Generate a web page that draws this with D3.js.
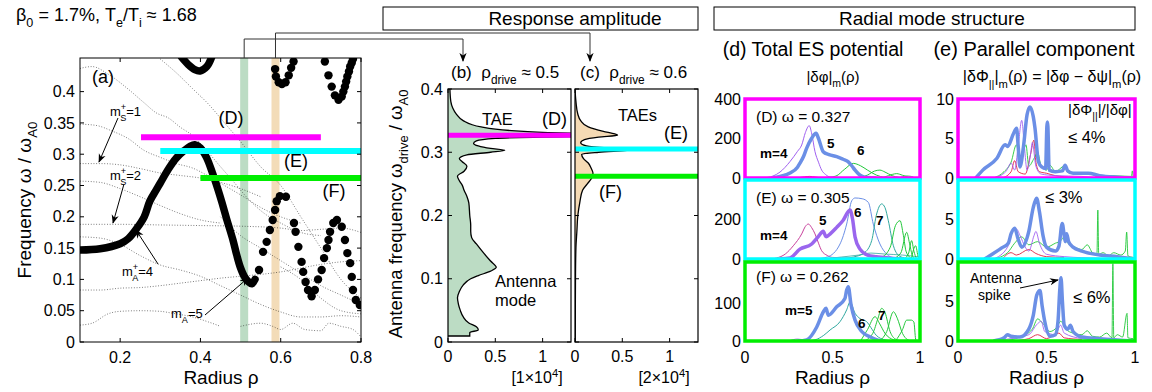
<!DOCTYPE html>
<html>
<head>
<meta charset="utf-8">
<script src="https://cdn.jsdelivr.net/npm/d3@7"></script>
<style>
body { margin: 0; background: #fff; }
svg { font-family: "Liberation Sans", Arial, sans-serif; }
text { white-space: pre; }
</style>
</head>
<body>
<div id="chart"></div>
<script>
// ---------- panel (a): continuum ----------
var thickBranch = [[0.1,0.147],[0.15,0.149],[0.2,0.157],[0.22,0.165],[0.242,0.182],[0.26,0.2],[0.274,0.225],[0.29,0.243],[0.3,0.254],[0.32,0.276],[0.34,0.294],[0.36,0.306],[0.375,0.313],[0.386,0.315],[0.4,0.31],[0.415,0.295],[0.43,0.27],[0.444,0.243],[0.454,0.222],[0.466,0.195],[0.481,0.163],[0.49,0.14],[0.499,0.12],[0.51,0.104],[0.52,0.096],[0.528,0.093],[0.536,0.1]];
var topBranch = [[0.353,0.455],[0.37,0.443],[0.386,0.435],[0.399,0.433],[0.416,0.44],[0.428,0.455]];
var dotPoints = [[0.546,0.115],[0.556,0.144],[0.565,0.16],[0.573,0.179],[0.58,0.195],[0.586,0.211],[0.59,0.225],[0.598,0.233],[0.613,0.232],[0.633,0.19],[0.637,0.176],[0.644,0.152],[0.652,0.128],[0.656,0.112],[0.662,0.096],[0.668,0.083],[0.677,0.073],[0.685,0.083],[0.693,0.1],[0.702,0.115],[0.708,0.134],[0.715,0.15],[0.719,0.163],[0.723,0.176],[0.731,0.19],[0.74,0.195],[0.752,0.184],[0.76,0.163],[0.766,0.142],[0.773,0.126],[0.777,0.104],[0.78,0.083],[0.787,0.067],[0.797,0.059],
  [0.586,0.436],[0.588,0.424],[0.595,0.415],[0.603,0.412],[0.612,0.415],[0.62,0.426],[0.626,0.438],[0.632,0.448],
  [0.71,0.448],[0.719,0.426],[0.727,0.408],[0.735,0.394],[0.744,0.387],[0.752,0.392],[0.756,0.4],[0.76,0.408],[0.763,0.416],[0.766,0.424],[0.77,0.432],[0.773,0.44],[0.777,0.446],[0.78,0.452]];
var thinLines = [
  [[0.1,0.437],[0.13,0.44],[0.17,0.428],[0.22,0.404],[0.26,0.382],[0.29,0.366],[0.32,0.358],[0.35,0.343],[0.38,0.33],[0.41,0.31],[0.45,0.28],[0.48,0.258],[0.52,0.228],[0.56,0.205],[0.6,0.19],[0.65,0.175],[0.7,0.17]],
  [[0.1,0.348],[0.14,0.346],[0.18,0.337],[0.22,0.325],[0.26,0.306],[0.3,0.295],[0.34,0.285],[0.38,0.278],[0.42,0.265],[0.46,0.25],[0.5,0.235],[0.55,0.215],[0.6,0.2],[0.65,0.19]],
  [[0.1,0.285],[0.15,0.285],[0.2,0.283],[0.25,0.277],[0.3,0.27],[0.35,0.266],[0.4,0.262],[0.45,0.255],[0.5,0.245],[0.55,0.232]],
  [[0.1,0.257],[0.15,0.255],[0.2,0.245],[0.25,0.232],[0.3,0.218],[0.35,0.205],[0.4,0.195],[0.45,0.19]],
  [[0.1,0.188],[0.2,0.188],[0.3,0.187],[0.4,0.186],[0.5,0.185],[0.6,0.182],[0.65,0.178],[0.7,0.18],[0.75,0.182],[0.8,0.175]],
  [[0.1,0.168],[0.15,0.166],[0.2,0.156],[0.25,0.138],[0.3,0.123],[0.35,0.115],[0.4,0.105],[0.45,0.09],[0.5,0.075],[0.55,0.06],[0.6,0.048],[0.65,0.04],[0.7,0.04],[0.75,0.042],[0.8,0.04]],
  [[0.1,0.083],[0.15,0.083],[0.2,0.086],[0.25,0.087],[0.3,0.09],[0.35,0.094],[0.4,0.098],[0.45,0.102],[0.5,0.105],[0.55,0.108],[0.6,0.112],[0.65,0.118],[0.7,0.124],[0.75,0.128],[0.8,0.13]],
  [[0.1,0.027],[0.13,0.03],[0.17,0.045],[0.2,0.049],[0.25,0.05],[0.3,0.049],[0.33,0.046],[0.38,0.04],[0.42,0.032],[0.45,0.025]],
  [[0.5,0.025],[0.55,0.03],[0.58,0.025],[0.6,0.02],[0.63,0.03],[0.66,0.02],[0.7,0.018],[0.72,0.03],[0.75,0.025],[0.78,0.02],[0.8,0.008]],
  [[0.3,0.452],[0.34,0.43],[0.38,0.405],[0.42,0.38],[0.46,0.35],[0.5,0.32],[0.55,0.28],[0.6,0.25],[0.65,0.2],[0.7,0.15],[0.75,0.1],[0.8,0.07]],
  [[0.45,0.2],[0.5,0.17],[0.55,0.15],[0.6,0.13],[0.65,0.11],[0.7,0.09],[0.75,0.075],[0.8,0.06]],
  [[0.6,0.12],[0.65,0.1],[0.7,0.07],[0.75,0.05],[0.8,0.045]]
];
var bandRho = [0.509, 0.587];
var bandColors = ["#bcdcc4", "#f3dcb8"];
var modeNames = ["D", "E", "F"];
var modeFreq = [0.327, 0.305, 0.262];
var modeRhoStart = [0.252, 0.30, 0.40];
var modeRhoEnd = [0.70, 0.80, 0.80];
var modeColors = ["#ff00ff", "#00ffff", "#00ee00"];

// ---------- panels (b), (c): response amplitude [freq, amplitude] ----------
var respB = [[0.40,0.02],[0.38,0.03],[0.37,0.05],[0.36,0.09],[0.35,0.16],[0.34,0.35],[0.333,0.8],[0.329,1.6],[0.327,2.5],[0.325,1.4],[0.322,0.5],[0.318,0.3],[0.314,0.27],[0.31,0.32],[0.306,0.45],[0.303,0.6],[0.3,0.45],[0.296,0.2],[0.29,0.12],[0.285,0.15],[0.278,0.2],[0.27,0.17],[0.262,0.1],[0.255,0.12],[0.248,0.15],[0.24,0.17],[0.23,0.2],[0.22,0.22],[0.2,0.23],[0.185,0.24],[0.175,0.24],[0.165,0.25],[0.155,0.3],[0.14,0.38],[0.128,0.45],[0.118,0.51],[0.112,0.45],[0.105,0.32],[0.1,0.24],[0.09,0.16],[0.08,0.12],[0.07,0.1],[0.06,0.11],[0.05,0.13],[0.04,0.16],[0.03,0.22],[0.024,0.3],[0.019,0.32],[0.015,0.23],[0.0095,0.23],[0.0095,0]];
var respC = [[0.40,0.0],[0.38,0.01],[0.36,0.03],[0.35,0.06],[0.34,0.14],[0.333,0.3],[0.329,0.42],[0.327,0.45],[0.324,0.25],[0.32,0.1],[0.315,0.06],[0.31,0.12],[0.307,0.35],[0.305,0.7],[0.303,0.55],[0.3,0.25],[0.297,0.07],[0.29,0.09],[0.283,0.14],[0.275,0.17],[0.267,0.19],[0.26,0.18],[0.25,0.13],[0.24,0.08],[0.22,0.05],[0.2,0.03],[0.175,0.02],[0.15,0.01],[0.1,0.005],[0.0,0.003]];
var ampTicks = [0, 0.5, 1];
var freqTicks = [0, 0.1, 0.2, 0.3, 0.4];
var freqTicksA = [0, 0.05, 0.1, 0.15, 0.2, 0.25, 0.3, 0.35, 0.4];
var rhoTicksA = [0.2, 0.4, 0.6, 0.8];

// ---------- panel (d): |dphi|_m(rho) ----------
var dD_m3 = [[0.3,0],[0.34,6],[0.37,8],[0.4,5],[0.44,0]];
var dD_m4 = [[0.1,0],[0.16,10],[0.2,30],[0.257,83],[0.3,135],[0.324,167],[0.345,230],[0.367,265],[0.38,230],[0.4,133],[0.42,80],[0.438,40],[0.46,18],[0.486,5],[0.55,0]];
var dD_m6 = [[0.45,0],[0.52,10],[0.57,45],[0.619,74],[0.66,62],[0.7,40],[0.75,15],[0.8,3],[0.85,0]];
var dD_m7 = [[0.65,0],[0.7,15],[0.74,35],[0.771,40],[0.8,30],[0.84,12],[0.88,3],[0.92,0]];
var dD_m8 = [[0.78,0],[0.82,12],[0.867,22],[0.9,14],[0.94,2],[0.96,0]];
var dD_m9 = [[0.88,0],[0.92,10],[0.95,8],[0.97,0]];
var dD_tot = [[0.15,0],[0.2,8],[0.257,25],[0.3,55],[0.314,75],[0.335,110],[0.352,150],[0.38,200],[0.406,226],[0.42,200],[0.447,133],[0.48,118],[0.524,108],[0.56,95],[0.589,83],[0.61,62],[0.629,40],[0.65,20],[0.667,10],[0.7,2],[0.75,0]];

var dE_m4 = [[0.15,0],[0.18,5],[0.23,25],[0.276,67],[0.324,127],[0.345,165],[0.362,177],[0.38,160],[0.4,127],[0.42,80],[0.438,42],[0.47,18],[0.5,8],[0.6,5],[0.7,3],[0.8,0]];
var dE_m5 = [[0.2,0],[0.257,5],[0.314,50],[0.381,76],[0.42,115],[0.438,135],[0.447,140],[0.463,113],[0.49,130],[0.524,160],[0.56,195],[0.6,248],[0.615,200],[0.629,111],[0.657,50],[0.7,20],[0.75,12],[0.8,8],[0.85,3],[0.9,0]];
var dE_m6 = [[0.4,0],[0.47,10],[0.543,76],[0.581,177],[0.61,295],[0.629,309],[0.67,305],[0.705,286],[0.733,177],[0.771,76],[0.81,25],[0.85,5],[0.9,0]];
var dE_m7 = [[0.55,0],[0.62,10],[0.68,30],[0.724,93],[0.75,220],[0.781,279],[0.8,260],[0.819,194],[0.848,67],[0.87,25],[0.9,8],[0.95,0]];
var dE_m8 = [[0.7,0],[0.78,10],[0.83,60],[0.86,170],[0.886,194],[0.905,120],[0.92,40],[0.94,10],[0.96,0]];
var dE_m9 = [[0.84,0],[0.89,30],[0.924,135],[0.94,80],[0.955,20],[0.97,0]];
var dE_m10 = [[0.91,0],[0.935,30],[0.952,93],[0.965,40],[0.98,0]];
var dE_m11 = [[0.95,0],[0.975,67],[0.99,10],[1.0,0]];
var dE_bg = [[0.45,0],[0.55,10],[0.65,20],[0.72,30],[0.8,25],[0.9,20],[1,10]];

var dF_m4 = [[0.25,0],[0.3,5],[0.35,2],[0.4,0]];
var dF_m5 = [[0.3,0],[0.352,3],[0.41,37],[0.448,77],[0.463,86],[0.476,68],[0.524,90],[0.571,112],[0.581,134],[0.59,143],[0.606,95],[0.629,55],[0.667,25],[0.714,11],[0.76,2],[0.8,0]];
var dF_m6 = [[0.35,0],[0.4,3],[0.45,15],[0.486,29],[0.543,51],[0.581,82],[0.6,103],[0.629,73],[0.657,59],[0.695,51],[0.72,35],[0.75,15],[0.8,3],[0.85,0]];
var dF_m6b = [[0.66,0],[0.7,30],[0.743,64],[0.77,45],[0.8,20],[0.85,3],[0.88,0]];
var dF_m7 = [[0.68,0],[0.73,20],[0.76,60],[0.781,86],[0.8,75],[0.829,25],[0.86,5],[0.9,0]];
var dF_m8 = [[0.77,0],[0.81,25],[0.848,77],[0.87,60],[0.9,20],[0.93,3],[0.95,0]];
var dF_m9 = [[0.86,0],[0.9,30],[0.924,55],[0.95,55],[0.965,50],[0.975,5],[0.98,0]];

// ---------- panel (e): |dPhi_par|_m(rho) ----------
var eD_tot = [[0.1,0],[0.14,1.0],[0.22,2.5],[0.266,4.2],[0.28,4.0],[0.313,5.6],[0.331,6.3],[0.34,4],[0.35,1.4],[0.37,4],[0.39,8],[0.407,9.0],[0.425,7.8],[0.435,6.3],[0.454,2.1],[0.473,1.4],[0.495,1.2],[0.502,6.5],[0.505,7.1],[0.508,6.5],[0.515,1.0],[0.55,0.8],[0.59,0.9],[0.605,1.6],[0.62,0.9],[0.65,0.6],[0.736,0.6],[0.8,0.3],[0.9,0.1],[1.0,0]];
var eD_pur = [[0.2,0],[0.27,0.8],[0.3,1.9],[0.32,1.0],[0.34,4],[0.36,7.3],[0.375,4],[0.39,1],[0.41,3],[0.42,4.5],[0.44,1.5],[0.47,0.5],[0.55,0.3],[0.7,0.2],[0.8,0]];
var eD_grn = [[0.2,0],[0.26,0.8],[0.3,2.0],[0.33,4.2],[0.35,2.5],[0.37,3.5],[0.384,4.2],[0.4,1.5],[0.43,2.5],[0.45,3.2],[0.47,1.5],[0.5,1.0],[0.52,1.6],[0.55,0.8],[0.6,1.5],[0.62,0.7],[0.7,0.5],[0.75,0.7],[0.78,0.2],[0.85,0.3],[0.98,0.2],[0.985,0.9],[0.99,0.1]];
var eD_red = [[0.25,0],[0.3,0.8],[0.32,2.2],[0.34,0.8],[0.38,0.5],[0.41,3],[0.429,4.8],[0.44,2],[0.46,0.8],[0.5,0.6],[0.55,0.3],[0.65,0.1]];
var eE_tot = [[0.15,0],[0.247,1.4],[0.284,2.0],[0.3,3.2],[0.32,3.9],[0.34,2.5],[0.36,1.5],[0.4,3.5],[0.425,6.5],[0.444,7.7],[0.46,6],[0.48,3],[0.5,1.5],[0.55,1.0],[0.57,1.6],[0.589,4.5],[0.6,3],[0.606,2.2],[0.614,3.2],[0.625,2.2],[0.65,1.5],[0.7,1.0],[0.8,0.5],[0.9,0.3],[1,0]];
var eE_pur = [[0.2,0],[0.28,1.5],[0.31,3.5],[0.33,3.8],[0.35,3.0],[0.38,1.5],[0.4,1],[0.43,3.0],[0.44,3.5],[0.46,2],[0.5,0.6],[0.6,0.3],[0.8,0.1]];
var eE_grn = [[0.2,0],[0.28,0.8],[0.32,2.0],[0.36,2.8],[0.4,1.8],[0.45,2.2],[0.5,1.5],[0.55,2.0],[0.58,2.3],[0.6,2.8],[0.62,2.0],[0.66,1.5],[0.7,1.2],[0.73,1.8],[0.76,0.8],[0.785,0.6],[0.79,6.2],[0.795,0.6],[0.82,0.8],[0.85,0.4],[0.88,0.8],[0.92,0.5],[0.945,1.0],[0.953,3.4],[0.96,0.4],[0.99,0.2]];
var eE_red = [[0.25,0],[0.3,0.8],[0.33,0.5],[0.4,1.2],[0.44,0.7],[0.5,0.3],[0.6,0.2]];
var eF_tot = [[0.2,0],[0.26,0.4],[0.28,0.8],[0.3,0.6],[0.35,0.5],[0.4,1.5],[0.425,3.2],[0.445,5.8],[0.463,6.4],[0.475,4.5],[0.49,2.5],[0.52,0.6],[0.55,0.8],[0.565,2.5],[0.575,6.5],[0.582,8.0],[0.59,5],[0.6,2.0],[0.62,1.5],[0.635,2.0],[0.65,1.2],[0.7,0.5],[0.8,0.3],[1,0]];
var eF_pur = [[0.2,0],[0.3,0.3],[0.4,0.8],[0.45,2.2],[0.47,2.5],[0.49,1.2],[0.55,0.8],[0.58,2.0],[0.6,1.0],[0.7,0.3],[0.8,0.1]];
var eF_grn = [[0.25,0],[0.35,0.5],[0.42,1.5],[0.45,2.8],[0.48,2.2],[0.52,1.2],[0.56,1.8],[0.58,2.5],[0.61,1.5],[0.65,1.0],[0.7,0.8],[0.73,1.3],[0.76,0.6],[0.8,0.5],[0.84,1.0],[0.87,0.4],[0.875,9.8],[0.88,0.4],[0.9,0.8],[0.93,0.5],[0.955,3.5],[0.96,0.4],[0.99,0.3]];
var eF_red = [[0.3,0],[0.4,0.3],[0.45,0.8],[0.5,0.3],[0.57,1.0],[0.6,0.4],[0.7,0.2]];

var rhoTicks = [0, 0.5, 1];
var dMax = [400, 400, 208];
var dTicks = [[0, 200, 400], [0, 200], [0, 100]];
var eTicks = [[0, 5, 10], [0, 5], [0, 5]];
var omegaLabels = ["(D) \u03c9 = 0.327", "(E) \u03c9 = 0.305", "(F) \u03c9 = 0.262"];
var ratioLabels = ["\u2264 4%", "\u2264 3%", "\u2264 6%"];

var cBlue = "#6b8fe6", cPurple = "#a060f0", cMag = "#c8409c", cTeal = "#30a8a0",
    cGreen = "#22c83a", cRed = "#e02040", cThickPur = "#9a66ee";

var width = 1152, height = 392;
var svg = d3.select("#chart").append("svg")
  .attr("width", width).attr("height", height);

var defs = svg.append("defs");
defs.append("marker").attr("id", "arr")
  .attr("viewBox", "0 0 10 10").attr("refX", 9).attr("refY", 5)
  .attr("markerWidth", 9).attr("markerHeight", 9).attr("orient", "auto")
  .append("path").attr("d", "M0,1 L10,5 L0,9 L3,5 z").attr("fill", "#000");

function rich(g, x, y, parts, size, anchor, weight) {
  var t = g.append("text").attr("x", x).attr("y", y)
    .attr("font-size", size).attr("text-anchor", anchor || "start");
  if (weight) t.attr("font-weight", weight);
  var cur = 0;
  parts.forEach(function(p) {
    if (typeof p === "string") p = [p, 0];
    var off = p[1] * size;
    var ts = t.append("tspan").text(p[0]).attr("dy", off - cur);
    if (p[1] !== 0) ts.attr("font-size", size * 0.7);
    if (p[2]) ts.attr("dx", p[2]);
    cur = off;
  });
  return t;
}

function clip(id, x0, y0, x1, y1) {
  defs.append("clipPath").attr("id", id).append("rect")
    .attr("x", x0).attr("y", y0).attr("width", x1 - x0).attr("height", y1 - y0);
}

// ================= panel (a) =================
var xa = d3.scaleLinear().domain([0.1, 0.8]).range([80, 361]);
var ya = d3.scaleLinear().domain([0, 0.4537]).range([342, 58]);
clip("clipA", 80, 58, 361, 342);
var ga = svg.append("g");
var pa = ga.append("g").attr("clip-path", "url(#clipA)");

pa.selectAll("rect.band").data(bandRho).enter().append("rect")
  .attr("x", function(d) { return xa(d) - 4; }).attr("y", 58)
  .attr("width", 8).attr("height", 284)
  .attr("fill", function(d, i) { return bandColors[i]; });

var lineA = d3.line().x(function(d) { return xa(d[0]); }).y(function(d) { return ya(d[1]); })
  .curve(d3.curveMonotoneX);
var lineA2 = d3.line().x(function(d) { return xa(d[0]); }).y(function(d) { return ya(d[1]); })
  .curve(d3.curveCatmullRom);

pa.selectAll("path.thin").data(thinLines).enter().append("path")
  .attr("d", lineA).attr("fill", "none").attr("stroke", "#111")
  .attr("stroke-width", 0.6).attr("stroke-dasharray", "0.9,1.8");

pa.selectAll("path.thick").data([thickBranch, topBranch]).enter().append("path")
  .attr("d", lineA2).attr("fill", "none").attr("stroke", "#000")
  .attr("stroke-width", 7.5).attr("stroke-linecap", "round").attr("stroke-linejoin", "round");

pa.selectAll("circle").data(dotPoints).enter().append("circle")
  .attr("cx", function(d) { return xa(d[0]); }).attr("cy", function(d) { return ya(d[1]); })
  .attr("r", 4.2).attr("fill", "#000");

pa.selectAll("line.mode").data(modeFreq).enter().append("line")
  .attr("x1", function(d, i) { return xa(modeRhoStart[i]); })
  .attr("x2", function(d, i) { return xa(modeRhoEnd[i]); })
  .attr("y1", function(d) { return ya(d); }).attr("y2", function(d) { return ya(d); })
  .attr("stroke", function(d, i) { return modeColors[i]; }).attr("stroke-width", 6);

ga.append("rect").attr("x", 80).attr("y", 58).attr("width", 281).attr("height", 284)
  .attr("fill", "none").attr("stroke", "#000").attr("stroke-width", 1);

freqTicksA.forEach(function(v) {
  ga.append("line").attr("x1", 80).attr("x2", 84).attr("y1", ya(v)).attr("y2", ya(v)).attr("stroke", "#000");
  ga.append("line").attr("x1", 357).attr("x2", 361).attr("y1", ya(v)).attr("y2", ya(v)).attr("stroke", "#000");
  ga.append("text").attr("x", 75).attr("y", ya(v)).attr("dy", "0.35em")
    .attr("text-anchor", "end").attr("font-size", 16).text(v);
});
rhoTicksA.forEach(function(v) {
  ga.append("line").attr("x1", xa(v)).attr("x2", xa(v)).attr("y1", 342).attr("y2", 338).attr("stroke", "#000");
  ga.append("line").attr("x1", xa(v)).attr("x2", xa(v)).attr("y1", 58).attr("y2", 62).attr("stroke", "#000");
  ga.append("text").attr("x", xa(v)).attr("y", 363)
    .attr("text-anchor", "middle").attr("font-size", 16).text(v);
});

rich(ga, 221, 384, ["Radius \u03c1"], 19, "middle");
rich(ga.append("g").attr("transform", "translate(31,200) rotate(-90)"), 0, 0,
  ["Frequency \u03c9 / \u03c9", ["A0", 0.3]], 19, "middle");
rich(ga, 16, 21, ["\u03b2", ["0", 0.35], " = 1.7%, T", ["e", 0.35], "/T", ["i", 0.35], " \u2248 1.68"], 18);

ga.append("text").attr("x", 92).attr("y", 83).attr("font-size", 18).text("(a)");
modeNames.forEach(function(n, i) {
  var pos = [[231, 124], [296, 167], [334, 197]][i];
  ga.append("text").attr("x", pos[0]).attr("y", pos[1]).attr("text-anchor", "middle")
    .attr("font-size", 18).text("(" + n + ")");
});

rich(ga, 110, 116, ["m", ["+", -0.45], ["S", 0.35, -6], "=1"], 13);
rich(ga, 110, 180, ["m", ["+", -0.45], ["S", 0.35, -6], "=2"], 13);
rich(ga, 122, 276, ["m", ["+", -0.45], ["A", 0.35, -6], "=4"], 13);
rich(ga, 171, 318, ["m", ["A", 0.35], "=5"], 13);

var annArrows = [[[118, 118], [99, 162]], [[124, 184], [113, 223]], [[158, 264], [136, 230]], [[205, 315], [248, 278]]];
ga.selectAll("line.ann").data(annArrows).enter().append("line")
  .attr("x1", function(d) { return d[0][0]; }).attr("y1", function(d) { return d[0][1]; })
  .attr("x2", function(d) { return d[1][0]; }).attr("y2", function(d) { return d[1][1]; })
  .attr("stroke", "#000").attr("stroke-width", 1).attr("marker-end", "url(#arr)");

// connectors from bands to panels (b), (c)
var connectors = [[[xa(bandRho[0]), 58], [xa(bandRho[0]), 39], [463, 39], [463, 61]],
                  [[xa(bandRho[1]), 58], [xa(bandRho[1]), 33], [590, 33], [590, 61]]];
svg.selectAll("path.conn").data(connectors).enter().append("path")
  .attr("d", d3.line()).attr("fill", "none").attr("stroke", "#333")
  .attr("stroke-width", 1).attr("marker-end", "url(#arr)");

// ================= panels (b), (c) =================
var yb = d3.scaleLinear().domain([0, 0.4]).range([342, 89]);
function respPanel(id, x0, x1, data, fill, lineIdx, showY) {
  var xs = d3.scaleLinear().domain([0, 1.3]).range([x0, x1]);
  clip(id, x0, 89, x1, 342);
  var g = svg.append("g");
  var p = g.append("g").attr("clip-path", "url(#" + id + ")");
  var area = d3.area().y(function(d) { return yb(d[0]); })
    .x0(xs(0)).x1(function(d) { return xs(d[1]); }).curve(d3.curveMonotoneY);
  p.append("path").datum(data).attr("d", area).attr("fill", fill);
  p.append("path").datum(data).attr("d", area.lineX1()).attr("fill", "none")
    .attr("stroke", "#000").attr("stroke-width", 1.3);
  lineIdx.forEach(function(i) {
    p.append("line").attr("x1", x0).attr("x2", x1)
      .attr("y1", yb(modeFreq[i])).attr("y2", yb(modeFreq[i]))
      .attr("stroke", modeColors[i]).attr("stroke-width", 5);
  });
  g.append("rect").attr("x", x0).attr("y", 89).attr("width", x1 - x0).attr("height", 253)
    .attr("fill", "none").attr("stroke", "#000").attr("stroke-width", 1.2);
  freqTicks.forEach(function(v) {
    g.append("line").attr("x1", x0).attr("x2", x0 + 4).attr("y1", yb(v)).attr("y2", yb(v)).attr("stroke", "#000");
    g.append("line").attr("x1", x1 - 4).attr("x2", x1).attr("y1", yb(v)).attr("y2", yb(v)).attr("stroke", "#000");
    if (showY) g.append("text").attr("x", x0 - 5).attr("y", yb(v)).attr("dy", "0.35em")
      .attr("text-anchor", "end").attr("font-size", 16).text(v);
  });
  ampTicks.forEach(function(v) {
    g.append("line").attr("x1", xs(v)).attr("x2", xs(v)).attr("y1", 342).attr("y2", 338).attr("stroke", "#000");
    g.append("line").attr("x1", xs(v)).attr("x2", xs(v)).attr("y1", 89).attr("y2", 93).attr("stroke", "#000");
    g.append("text").attr("x", xs(v)).attr("y", 362).attr("text-anchor", "middle")
      .attr("font-size", 16).text(v);
  });
  return g;
}
var gb = respPanel("clipB", 448, 571, respB, "#bcdcc4", [0], true);
var gc = respPanel("clipC", 575, 698, respC, "#f5dab4", [1, 2], false);

rich(gb, 451, 78, ["(b)  \u03c1", ["drive", 0.35], " \u2248 0.5"], 17);
rich(gc, 580, 78, ["(c)  \u03c1", ["drive", 0.35], " \u2248 0.6"], 17);
gb.append("text").attr("x", 482).attr("y", 125).attr("font-size", 16.5).text("TAE");
gb.append("text").attr("x", 542).attr("y", 125).attr("font-size", 18).text("(D)");
gb.append("text").attr("x", 495).attr("y", 287).attr("font-size", 16.5).text("Antenna");
gb.append("text").attr("x", 495).attr("y", 306).attr("font-size", 16.5).text("mode");
gc.append("text").attr("x", 618).attr("y", 121).attr("font-size", 16.5).text("TAEs");
gc.append("text").attr("x", 664).attr("y", 139).attr("font-size", 18).text("(E)");
gc.append("text").attr("x", 599).attr("y", 198).attr("font-size", 18).text("(F)");
rich(gb, 537, 383, ["[1\u00d710", ["4", -0.4], ["]", 0]], 16, "middle");
rich(gc, 664, 383, ["[2\u00d710", ["4", -0.4], ["]", 0]], 16, "middle");
rich(svg.append("g").attr("transform", "translate(402,214) rotate(-90)"), 0, 0,
  ["Antenna frequency \u03c9", ["drive", 0.3], " / \u03c9", ["A0", 0.3]], 18.5, "middle");

// header boxes
var headers = [["Response amplitude", 383, 698, 575], ["Radial mode structure", 714, 1135, 932]];
headers.forEach(function(h) {
  svg.append("rect").attr("x", h[1]).attr("y", 7).attr("width", h[2] - h[1]).attr("height", 23)
    .attr("fill", "#fff").attr("stroke", "#000").attr("stroke-width", 1);
  svg.append("text").attr("x", h[3]).attr("y", 25).attr("text-anchor", "middle")
    .attr("font-size", 19).text(h[0]);
});

// ================= panels (d), (e) =================
var rowTop = [99, 180, 262], rowH = 79;
var dRows = [
  [[dD_m3, cRed, 1], [dD_m4, cPurple, 1], [dD_m6, cGreen, 1], [dD_m7, cGreen, 1], [dD_m8, cGreen, 1], [dD_m9, cGreen, 1], [dD_tot, cBlue, 3.5]],
  [[dE_bg, cTeal, 0.8], [dE_m4, cMag, 1], [dE_m6, cBlue, 1], [dE_m7, cTeal, 1], [dE_m8, cGreen, 1], [dE_m9, cGreen, 1], [dE_m10, cGreen, 1], [dE_m11, cGreen, 1], [dE_m5, cThickPur, 3.5]],
  [[dF_m4, cPurple, 1], [dF_m6, cTeal, 1], [dF_m6b, cGreen, 1], [dF_m7, cGreen, 1], [dF_m8, cGreen, 1], [dF_m9, cGreen, 1], [dF_m5, cBlue, 3.5]]
];
var eRows = [
  [[eD_red, cRed, 0.9], [eD_grn, cGreen, 0.9], [eD_pur, cPurple, 0.9], [eD_tot, cBlue, 3.5]],
  [[eE_red, cRed, 0.9], [eE_grn, cGreen, 0.9], [eE_pur, cPurple, 0.9], [eE_tot, cBlue, 3.5]],
  [[eF_red, cRed, 0.9], [eF_grn, cGreen, 0.9], [eF_pur, cPurple, 0.9], [eF_tot, cBlue, 3.5]]
];

function modePanel(name, x0, x1, rows, maxes, ticks) {
  var xs = d3.scaleLinear().domain([0, 1]).range([x0, x1]);
  var g = svg.append("g");
  rows.forEach(function(lines, r) {
    var top = rowTop[r], bot = top + rowH;
    var ys = d3.scaleLinear().domain([0, maxes[r]]).range([bot, top]);
    clip(name + r, x0, top, x1, bot);
    var p = g.append("g").attr("clip-path", "url(#" + name + r + ")");
    var ln = d3.line().x(function(d) { return xs(d[0]); }).y(function(d) { return ys(d[1]); })
      .curve(d3.curveMonotoneX);
    p.selectAll("path").data(lines).enter().append("path")
      .attr("d", function(d) { return ln(d[0]); }).attr("fill", "none")
      .attr("stroke", function(d) { return d[1]; })
      .attr("stroke-width", function(d) { return d[2]; })
      .attr("stroke-linejoin", "round");
    g.append("rect").attr("x", x0).attr("y", top).attr("width", x1 - x0).attr("height", rowH)
      .attr("fill", "none").attr("stroke", modeColors[r]).attr("stroke-width", 3.5);
    ticks[r].forEach(function(v) {
      g.append("text").attr("x", x0 - 4).attr("y", ys(v)).attr("dy", "0.35em")
        .attr("text-anchor", "end").attr("font-size", 16).text(v);
    });
  });
  rhoTicks.forEach(function(v) {
    g.append("text").attr("x", xs(v)).attr("y", 363).attr("text-anchor", "middle")
      .attr("font-size", 16).text(v);
  });
  rich(g, (x0 + x1) / 2, 384, ["Radius \u03c1"], 19, "middle");
  return g;
}
var gd = modePanel("clipD", 745, 920, dRows, dMax, dTicks);
var ge = modePanel("clipE", 958, 1135, eRows, [10, 10, 10], eTicks);

rich(gd, 813, 56, ["(d) Total ES potential"], 19.5, "middle");
rich(ge, 1034, 56, ["(e) Parallel component"], 20, "middle");
rich(gd, 833, 82, ["|\u03b4\u03c6|", ["m", 0.35], ["(\u03c1)", 0]], 15, "middle");
rich(ge, 1052, 82, ["|\u03b4\u03a6", ["||", 0.35], ["|", 0], ["m", 0.35], ["(\u03c1) = |\u03b4\u03c6 \u2212 \u03b4\u03c8|", 0], ["m", 0.35], ["(\u03c1)", 0]], 16, "middle");

omegaLabels.forEach(function(t, i) {
  gd.append("text").attr("x", 756).attr("y", [122, 203, 282][i]).attr("font-size", 15.5).text(t);
});
var mLabels = [["m=4", 760, 158], ["5", 827, 148], ["6", 857, 155],
               ["m=4", 760, 240], ["5", 819, 225], ["6", 854, 217], ["7", 876, 225],
               ["m=5", 785, 315], ["6", 858, 328], ["7", 878, 320]];
mLabels.forEach(function(m) {
  gd.append("text").attr("x", m[1]).attr("y", m[2]).attr("font-size", 13.5)
    .attr("font-weight", "bold").text(m[0]);
});

rich(ge, 1068, 115, ["|\u03b4\u03a6", ["||", 0.35], ["|/|\u03b4\u03c6|", 0]], 15);
ratioLabels.forEach(function(t, i) {
  ge.append("text").attr("x", [1068, 1045, 1073][i]).attr("y", [143, 203, 303][i])
    .attr("font-size", 16.5).text(t);
});
ge.append("text").attr("x", 970).attr("y", 283).attr("font-size", 14).text("Antenna");
ge.append("text").attr("x", 978).attr("y", 300).attr("font-size", 14).text("spike");
ge.append("line").attr("x1", 1020).attr("y1", 288).attr("x2", 1058).attr("y2", 280)
  .attr("stroke", "#000").attr("stroke-width", 1).attr("marker-end", "url(#arr)");
</script>
</body>
</html>
